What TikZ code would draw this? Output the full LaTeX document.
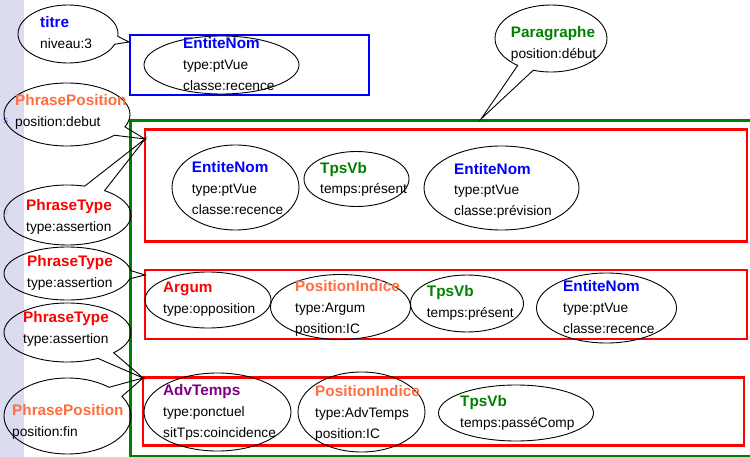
\documentclass[tikz,border=0pt]{standalone}
\usepackage{fontspec}
\setmainfont{Liberation Sans}
\usetikzlibrary{shapes.geometric,shapes.callouts}

\definecolor{stripbg}{RGB}{220,220,240}
\definecolor{stripink}{RGB}{110,110,215}
\definecolor{entblue}{RGB}{0,0,255}
\definecolor{vbgreen}{RGB}{0,128,0}
\definecolor{phred}{RGB}{255,0,0}
\definecolor{posorange}{RGB}{255,110,64}
\definecolor{advpurple}{RGB}{128,0,128}

% body text and a stacked feature list: bold coloured head, then attribute lines
\newcommand\bodyfont{\fontsize{13.7}{20.7}\selectfont}
\newcommand\attrline[1]{\hbox{#1}}
\newcommand\attrs[3]{\vtop{\baselineskip=20.7pt
  \hbox{\fontsize{15.3}{18}\selectfont\bfseries\color{#1}#2}#3}}

\tikzset{
  attr/.style={draw, ellipse, line width=0.9pt, inner sep=0pt},
  bubble/.style={draw, ellipse callout, line width=0.9pt, inner sep=0pt},
  lbl/.style={anchor=base west, inner sep=0pt, font=\bodyfont, text=black},
  frag/.style={anchor=base west, inner sep=0pt, font=\fontsize{10}{12}\selectfont, text=stripink},
  titrebox/.style={draw=entblue, line width=2.8pt},
  parabox/.style={draw=vbgreen, line width=2.6pt},
  phrasebox/.style={draw=phred, line width=2.8pt},
}

\begin{document}
\begin{tikzpicture}[x=1pt,y=-1pt]
\useasboundingbox (0,0) rectangle (750,457);

% side strip
\fill[stripbg] (0,0) rectangle (24,457);
\node[frag] (fragS) at (3,124) {s};
\node[frag, text=stripink!50] (fragE) at (3,215) {e};

% containers
\draw[titrebox] (130,35) rectangle (369,95);
\draw[parabox] (130.5,120.5) rectangle (800,456.5);
\draw[phrasebox] (145,129.5) rectangle (747,241.5);
\draw[phrasebox] (145,270) rectangle (747,339);
\draw[phrasebox] (143,377.5) rectangle (744,445.5);

% pointer targets of the annotation bubbles
\coordinate (tipTitre) at (129,42);
\coordinate (tipPara) at (481,119);
\coordinate (tipPh1) at (145,139);
\coordinate (tipPh2) at (145,275);
\coordinate (tipPh3) at (143,378);

% annotation bubbles
\node[bubble, minimum width=100, minimum height=58,
  callout absolute pointer={(tipTitre)}, callout pointer arc=16] (titre) at (68,34) {};
\node[bubble, minimum width=112, minimum height=67,
  callout absolute pointer={(tipPara)}, callout pointer arc=18] (para) at (551,38.5) {};
\node[bubble, minimum width=126, minimum height=63,
  callout absolute pointer={(tipPh1)}, callout pointer arc=18] (pposA) at (67,114.5) {};
\node[bubble, minimum width=127, minimum height=60,
  callout absolute pointer={(tipPh1)}, callout pointer arc=20] (ptypeA) at (67.5,215) {};
\node[bubble, minimum width=127, minimum height=53,
  callout absolute pointer={(tipPh2)}, callout pointer arc=18] (ptypeB) at (67.5,273.5) {};
\node[bubble, minimum width=127, minimum height=59,
  callout absolute pointer={(tipPh3)}, callout pointer arc=18] (ptypeC) at (67.5,332.5) {};
\node[bubble, minimum width=127, minimum height=76,
  callout absolute pointer={(tipPh3)}, callout pointer arc=18] (pposB) at (67.5,416) {};

\node[lbl] (titreT) at (40,28) {\attrs{entblue}{titre}{\attrline{niveau:3}}};
\node[lbl] (paraT) at (510.7,37.7) {\attrs{vbgreen}{Paragraphe}{\attrline{position:début}}};
\node[lbl] (pposAT) at (15,106) {\attrs{posorange}{PhrasePosition}{\attrline{position:debut}}};
\node[lbl] (ptypeAT) at (26,210.7) {\attrs{phred}{PhraseType}{\attrline{type:assertion}}};
\node[lbl] (ptypeBT) at (27,267) {\attrs{phred}{PhraseType}{\attrline{type:assertion}}};
\node[lbl] (ptypeCT) at (23,323) {\attrs{phred}{PhraseType}{\attrline{type:assertion}}};
\node[lbl] (pposBT) at (12,415.7) {\attrs{posorange}{PhrasePosition}{\attrline{position:fin}}};

% title entity
\node[attr, minimum width=155, minimum height=58] (en0) at (221.5,65) {};
\node[lbl] (en0T) at (183,49) {\attrs{entblue}{EntiteNom}{\attrline{type:ptVue}\attrline{classe:recence}}};

% first sentence
\node[attr, minimum width=127, minimum height=85] (en1) at (235.5,187.5) {};
\node[attr, minimum width=105, minimum height=55] (vb1) at (356.5,179) {};
\node[attr, minimum width=155, minimum height=84] (en2) at (501.5,188) {};
\node[lbl] (en1T) at (191.7,173) {\attrs{entblue}{EntiteNom}{\attrline{type:ptVue}\attrline{classe:recence}}};
\node[lbl] (vb1T) at (320,173.3) {\attrs{vbgreen}{TpsVb}{\attrline{temps:présent}}};
\node[lbl] (en2T) at (454,174.3) {\attrs{entblue}{EntiteNom}{\attrline{type:ptVue}\attrline{classe:prévision}}};

% second sentence
\node[attr, minimum width=126, minimum height=56] (arg) at (208,300) {};
\node[attr, minimum width=140, minimum height=65] (pi1) at (340.5,307) {};
\node[attr, minimum width=113, minimum height=57] (vb2) at (467,303.5) {};
\node[attr, minimum width=140, minimum height=70] (en3) at (606.5,308) {};
\node[lbl] (argT) at (163,293) {\attrs{phred}{Argum}{\attrline{type:opposition}}};
\node[lbl] (pi1T) at (295,291.7) {\attrs{posorange}{PositionIndice}{\attrline{type:Argum}\attrline{position:IC}}};
\node[lbl] (vb2T) at (426.7,296.7) {\attrs{vbgreen}{TpsVb}{\attrline{temps:présent}}};
\node[lbl] (en3T) at (563,291.7) {\attrs{entblue}{EntiteNom}{\attrline{type:ptVue}\attrline{classe:recence}}};

% third sentence
\node[attr, minimum width=147, minimum height=78] (adv) at (217.5,412) {};
\node[attr, minimum width=127, minimum height=80] (pi2) at (361.5,412) {};
\node[attr, minimum width=155, minimum height=56] (vb3) at (516,413) {};
\node[lbl] (advT) at (163,395.7) {\attrs{advpurple}{AdvTemps}{\attrline{type:ponctuel}\attrline{sitTps:coincidence}}};
\node[lbl] (pi2T) at (315,396.7) {\attrs{posorange}{PositionIndice}{\attrline{type:AdvTemps}\attrline{position:IC}}};
\node[lbl] (vb3T) at (460,406.7) {\attrs{vbgreen}{TpsVb}{\attrline{temps:passéComp}}};
\end{tikzpicture}
\end{document}
